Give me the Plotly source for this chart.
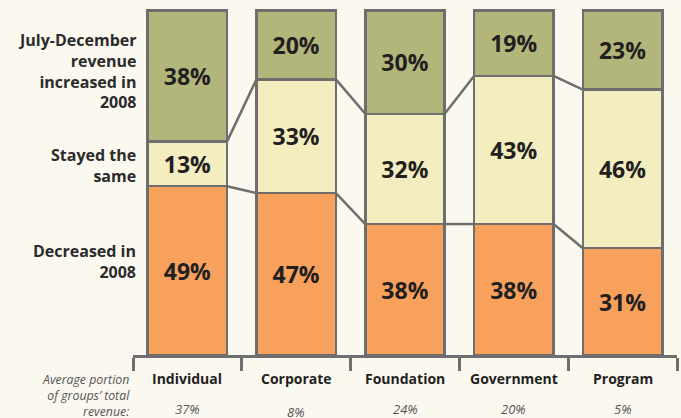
import plotly.graph_objects as go

categories = ["Individual", "Corporate", "Foundation", "Government", "Program"]
revenue_share = ["37%", "8%", "24%", "20%", "5%"]
decreased = [49, 47, 38, 38, 31]
stayed = [13, 33, 32, 43, 46]
increased = [38, 20, 30, 19, 23]

series_names = ["Decreased in<br>2008", "Stayed the<br>same", "July-December<br>revenue<br>increased in<br>2008"]
caption = "Average portion<br>of groups’ total<br>revenue:"
colors = ["#f8a15d", "#f3edc0", "#b3b67b"]
BORDER = "#6e6e6e"
TEXT = "#231f20"
BG = "#fbf8f0"
FONT = "Open Sans"
BAR_W = 0.73

x = list(range(len(categories)))
fig = go.Figure()
for vals, name, col in zip([decreased, stayed, increased], series_names, colors):
    fig.add_trace(go.Bar(
        x=x, y=vals, name=name, width=BAR_W,
        marker=dict(color=col, line=dict(color=BORDER, width=2.5)),
        texttemplate="<b>%{y}%</b>", textposition="inside",
        insidetextanchor="middle",
        textfont=dict(family=FONT, size=23, color=TEXT),
        showlegend=False, hoverinfo="skip",
    ))

# connector lines between adjacent bars
b1 = decreased
b2 = [d + s for d, s in zip(decreased, stayed)]
for bounds in (b1, b2):
    for i in range(len(categories) - 1):
        fig.add_trace(go.Scatter(
            x=[i + BAR_W / 2, i + 1 - BAR_W / 2], y=[bounds[i], bounds[i + 1]],
            mode="lines", line=dict(color=BORDER, width=2.5),
            showlegend=False, hoverinfo="skip",
        ))

annotations = []
# category labels and shares
for i, (c, s) in enumerate(zip(categories, revenue_share)):
    annotations.append(dict(x=i, y=0, xref="x", yref="paper", yanchor="middle",
                            yshift=-23, text=f"<b>{c}</b>", showarrow=False,
                            font=dict(family=FONT, size=14, color=TEXT)))
    annotations.append(dict(x=i, y=0, xref="x", yref="paper", yanchor="middle",
                            yshift=-57 if i == 1 else -54, text=f"<i>{s}</i>", showarrow=False,
                            font=dict(family=FONT, size=13, color="#555555")))

# series labels on left
series_label_y = [27, 55, 82.5]
for name, yy in zip(series_names, series_label_y):
    annotations.append(dict(x=0, y=yy, xref="paper", yref="y", xanchor="right",
                            yanchor="middle", xshift=5, align="right",
                            text=f"<b>{name}</b>", showarrow=False,
                            font=dict(family=FONT, size=16, color="#2b2b2b")))

# left bottom caption
annotations.append(dict(x=0, y=0, xref="paper", yref="paper", xanchor="right",
                        yanchor="top", xshift=-1, yshift=-14, align="right",
                        text=f"<i>{caption}</i>", showarrow=False,
                        font=dict(family=FONT, size=12.3, color="#555555")))

fig.update_layout(
    width=681, height=418,
    margin=dict(l=133, r=4, t=7, b=63),
    barmode="stack",
    paper_bgcolor=BG, plot_bgcolor=BG,
    annotations=annotations,
    xaxis=dict(range=[-0.5, 4.5], tickvals=[-0.5, 0.5, 1.5, 2.5, 3.5, 4.5],
               showticklabels=False, ticks="outside", ticklen=13, tickwidth=2.5,
               tickcolor=BORDER, showline=True, linecolor=BORDER, linewidth=2.5,
               showgrid=False, zeroline=False, fixedrange=True),
    yaxis=dict(range=[0, 101], visible=False, showgrid=False, zeroline=False, fixedrange=True),
)

fig.write_html("out.html", config={"displayModeBar": False},
               post_script="document.body.style.margin='0';document.body.style.background='#fbf8f0';")
